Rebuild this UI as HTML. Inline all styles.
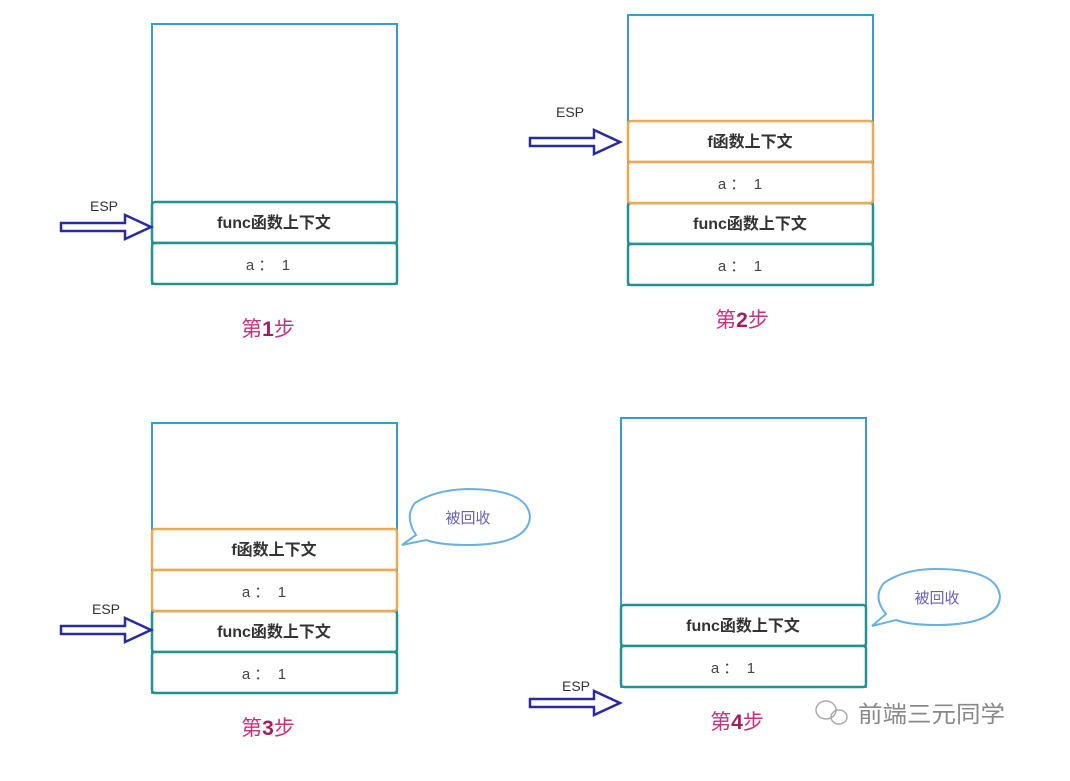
<!DOCTYPE html>
<html><head><meta charset="utf-8"><style>
html,body{margin:0;padding:0;background:#fff;}
svg text{font-family:"Liberation Sans","Noto Sans CJK SC",sans-serif;}
</style></head><body>
<svg width="1070" height="776" viewBox="0 0 1070 776" xmlns="http://www.w3.org/2000/svg">
<defs>
<g id="arr">
<path d="M0,-4 L64,-4 L64,-12 L90,0 L64,12 L64,4 L0,4 Z" fill="#fff" stroke="#2a2aa0" stroke-width="2.5" stroke-linejoin="miter"/>
</g>
</defs>
<rect width="1070" height="776" fill="#fff"/>

<!-- Box 1 -->
<rect x="152" y="24" width="245" height="260" fill="none" stroke="#3a9ad0" stroke-width="2"/>
<rect x="152" y="202" width="245" height="41" rx="3" fill="#fff" stroke="#23918f" stroke-width="2.5"/>
<rect x="152" y="243" width="245" height="41" rx="3" fill="#fff" stroke="#23918f" stroke-width="2.5"/>
<text x="274" y="228" text-anchor="middle" font-size="16" font-weight="bold" fill="#333">func函数上下文</text>
<text x="268" y="270" text-anchor="middle" font-size="15" fill="#444" xml:space="preserve">a ：  1</text>
<use href="#arr" x="61" y="227"/>
<text x="90" y="211" font-size="14" fill="#333">ESP</text>
<text x="268" y="336" text-anchor="middle" font-size="21" fill="#c0357f">第<tspan font-weight="bold" fill="#a0205f">1</tspan>步</text>

<!-- Box 2 -->
<rect x="628" y="15" width="245" height="270" fill="none" stroke="#3a9ad0" stroke-width="2"/>
<rect x="628" y="203" width="245" height="41" rx="3" fill="#fff" stroke="#23918f" stroke-width="2.5"/>
<rect x="628" y="244" width="245" height="41" rx="3" fill="#fff" stroke="#23918f" stroke-width="2.5"/>
<rect x="628" y="121" width="245" height="41" rx="3" fill="#fff" stroke="#e8aa55" stroke-width="2.5"/>
<rect x="628" y="162" width="245" height="41" rx="3" fill="#fff" stroke="#e8aa55" stroke-width="2.5"/>
<text x="750" y="147" text-anchor="middle" font-size="16" font-weight="bold" fill="#333">f函数上下文</text>
<text x="740" y="189" text-anchor="middle" font-size="15" fill="#444" xml:space="preserve">a ：  1</text>
<text x="750" y="229" text-anchor="middle" font-size="16" font-weight="bold" fill="#333">func函数上下文</text>
<text x="740" y="271" text-anchor="middle" font-size="15" fill="#444" xml:space="preserve">a ：  1</text>
<use href="#arr" x="530" y="142"/>
<text x="556" y="117" font-size="14" fill="#333">ESP</text>
<text x="742" y="327" text-anchor="middle" font-size="21" fill="#c0357f">第<tspan font-weight="bold" fill="#a0205f">2</tspan>步</text>

<!-- Box 3 -->
<rect x="152" y="423" width="245" height="270" fill="none" stroke="#3a9ad0" stroke-width="2"/>
<rect x="152" y="611" width="245" height="41" rx="3" fill="#fff" stroke="#23918f" stroke-width="2.5"/>
<rect x="152" y="652" width="245" height="41" rx="3" fill="#fff" stroke="#23918f" stroke-width="2.5"/>
<rect x="152" y="529" width="245" height="41" rx="3" fill="#fff" stroke="#e8aa55" stroke-width="2.5"/>
<rect x="152" y="570" width="245" height="41" rx="3" fill="#fff" stroke="#e8aa55" stroke-width="2.5"/>
<text x="274" y="555" text-anchor="middle" font-size="16" font-weight="bold" fill="#333">f函数上下文</text>
<text x="264" y="597" text-anchor="middle" font-size="15" fill="#444" xml:space="preserve">a ：  1</text>
<text x="274" y="637" text-anchor="middle" font-size="16" font-weight="bold" fill="#333">func函数上下文</text>
<text x="264" y="679" text-anchor="middle" font-size="15" fill="#444" xml:space="preserve">a ：  1</text>
<use href="#arr" x="61" y="630"/>
<text x="92" y="614" font-size="14" fill="#333">ESP</text>
<text x="268" y="735" text-anchor="middle" font-size="21" fill="#c0357f">第<tspan font-weight="bold" fill="#a0205f">3</tspan>步</text>
<!-- bubble 1 -->
<path d="M416,535 Q404,517 415,503 Q435,490 467,489 Q528,489 530,517 Q528,545 467,545 Q440,545 426,540 L402,545 Z" fill="#fff" stroke="#6ab0e0" stroke-width="2"/>
<text x="468" y="523" text-anchor="middle" font-size="15" fill="#6a5fb0">被回收</text>

<!-- Box 4 -->
<rect x="621" y="418" width="245" height="269" fill="none" stroke="#3a9ad0" stroke-width="2"/>
<rect x="621" y="605" width="245" height="41" rx="3" fill="#fff" stroke="#23918f" stroke-width="2.5"/>
<rect x="621" y="646" width="245" height="41" rx="3" fill="#fff" stroke="#23918f" stroke-width="2.5"/>
<text x="743" y="631" text-anchor="middle" font-size="16" font-weight="bold" fill="#333">func函数上下文</text>
<text x="733" y="673" text-anchor="middle" font-size="15" fill="#444" xml:space="preserve">a ：  1</text>
<use href="#arr" x="530" y="703"/>
<text x="562" y="691" font-size="14" fill="#333">ESP</text>
<text x="737" y="729" text-anchor="middle" font-size="21" fill="#c0357f">第<tspan font-weight="bold" fill="#a0205f">4</tspan>步</text>
<!-- bubble 2 -->
<path d="M886,614 Q872,597 884,583 Q904,569 936,569 Q998,569 1000,597 Q998,625 936,625 Q910,625 896,620 L872,626 Z" fill="#fff" stroke="#6ab0e0" stroke-width="2"/>
<text x="937" y="603" text-anchor="middle" font-size="15" fill="#6a5fb0">被回收</text>

<!-- watermark -->
<g fill="none" stroke="#aaa" stroke-width="1.5">
<ellipse cx="826" cy="710" rx="10" ry="9"/>
<ellipse cx="839" cy="717" rx="8" ry="7"/>
</g>
<text x="858" y="722" font-size="23" fill="#888" textLength="147" lengthAdjust="spacingAndGlyphs">前端三元同学</text>
</svg>
</body></html>
